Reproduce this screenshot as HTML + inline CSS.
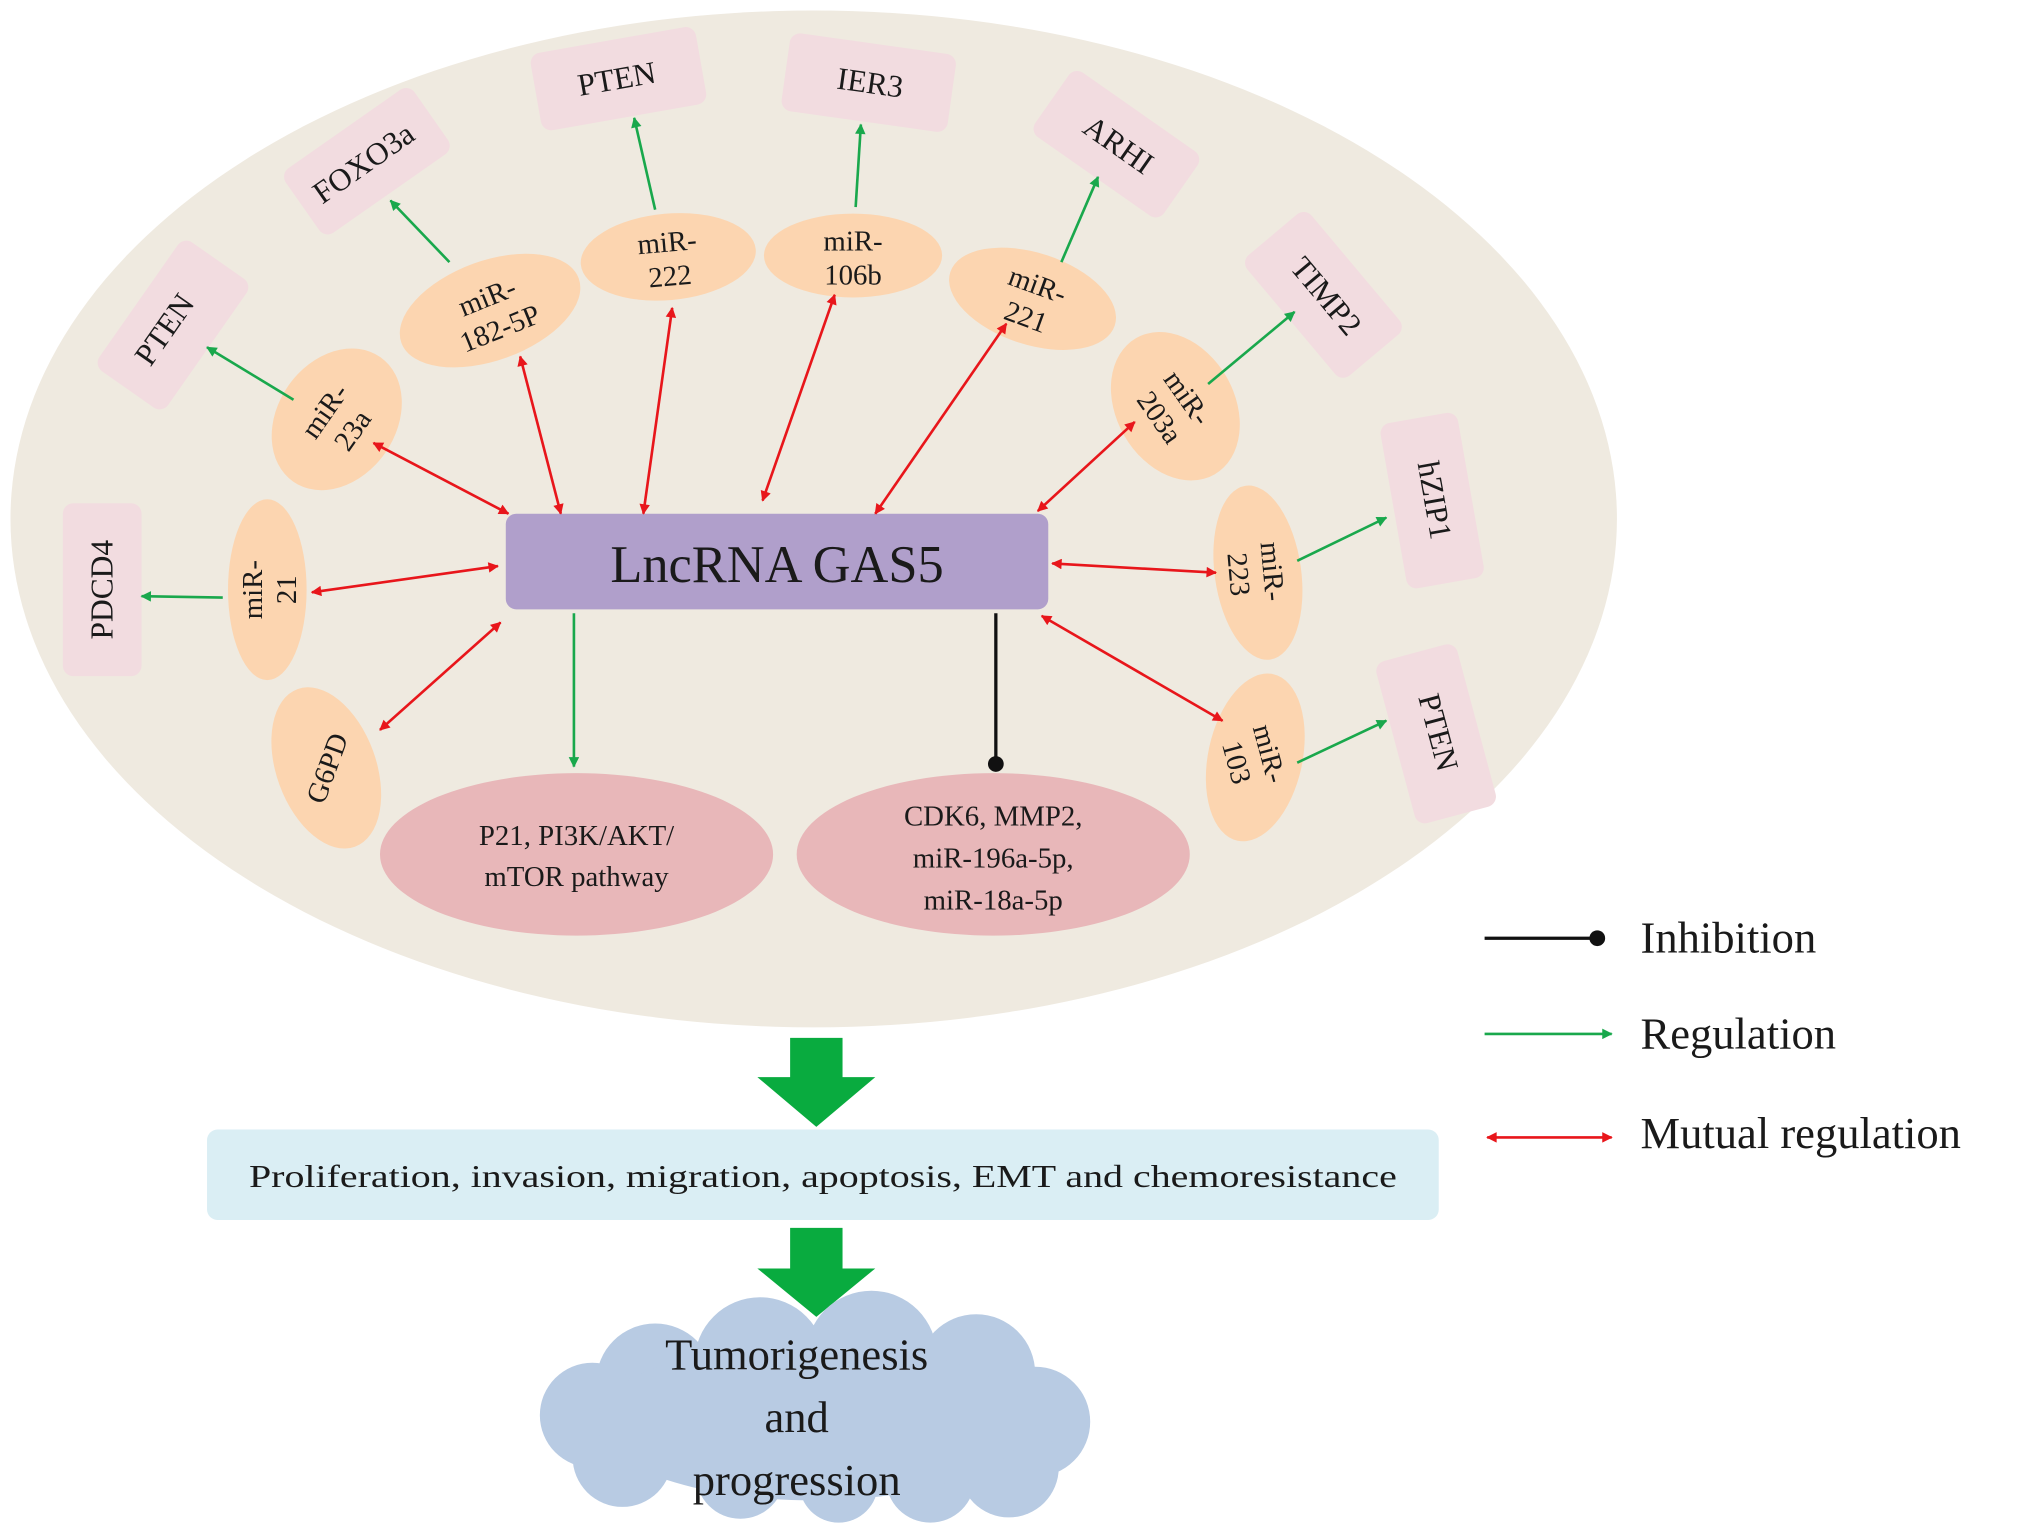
<!DOCTYPE html>
<html><head><meta charset="utf-8"><style>html,body{margin:0;padding:0;background:#fff}svg{display:block}text{font-family:"Liberation Serif",serif;fill:#1a1a1a}</style></head><body>
<svg width="2031" height="1524" viewBox="0 0 1550 1163" xmlns="http://www.w3.org/2000/svg">
<defs>
<marker id="r" viewBox="0 0 10 10" refX="9" refY="5" markerWidth="9" markerHeight="8" orient="auto-start-reverse" markerUnits="userSpaceOnUse"><path d="M0,0L10,5L0,10z" fill="#e8161b"/></marker>
<marker id="g" viewBox="0 0 10 10" refX="9" refY="5" markerWidth="9" markerHeight="8" orient="auto" markerUnits="userSpaceOnUse"><path d="M0,0L10,5L0,10z" fill="#19a84c"/></marker>
</defs>
<rect width="1550" height="1163" fill="#fff"/>
<ellipse cx="621" cy="396" rx="613" ry="388" fill="#efeae0"/>

<g fill="#f2dce0">
<rect x="-60" y="-32" width="120" height="64" rx="8" transform="translate(132,248) rotate(-55)"/>
<rect x="-60" y="-30" width="120" height="60" rx="8" transform="translate(280,123) rotate(-35)"/>
<rect x="-64" y="-30" width="128" height="60" rx="8" transform="translate(472,60) rotate(-10)"/>
<rect x="-64" y="-30" width="128" height="60" rx="8" transform="translate(663,63) rotate(8)"/>
<rect x="-60" y="-30" width="120" height="60" rx="8" transform="translate(852,110) rotate(35)"/>
<rect x="-60" y="-32" width="120" height="64" rx="8" transform="translate(1010,225) rotate(50)"/>
<rect x="-64" y="-30" width="128" height="60" rx="8" transform="translate(1093,382) rotate(80)"/>
<rect x="-64" y="-32" width="128" height="64" rx="8" transform="translate(1096,560) rotate(75)"/>
<rect x="-66" y="-30" width="132" height="60" rx="8" transform="translate(78,450) rotate(-90)"/>
</g>
<g font-size="24" text-anchor="middle">
<text transform="translate(132,256) rotate(-55)">PTEN</text>
<text transform="translate(282,131) rotate(-35)">FOXO3a</text>
<text transform="translate(472,68) rotate(-10)">PTEN</text>
<text transform="translate(663,71) rotate(8)">IER3</text>
<text transform="translate(849,117) rotate(35)">ARHI</text>
<text transform="translate(1006,231) rotate(50)">TIMP2</text>
<text transform="translate(1087,383) rotate(80)">hZIP1</text>
<text transform="translate(1090,561) rotate(75)">PTEN</text>
<text transform="translate(86,450) rotate(-90)">PDCD4</text>
</g>

<g fill="#fcd5b0">
<ellipse cx="257" cy="320" rx="45" ry="58" transform="rotate(35 257 320)"/>
<ellipse cx="374" cy="237" rx="72" ry="38" transform="rotate(-20 374 237)"/>
<ellipse cx="510" cy="196" rx="67" ry="33" transform="rotate(-5 510 196)"/>
<ellipse cx="651" cy="195" rx="68" ry="32"/>
<ellipse cx="788" cy="228" rx="66" ry="35" transform="rotate(18 788 228)"/>
<ellipse cx="897" cy="310" rx="45" ry="60" transform="rotate(-30 897 310)"/>
<ellipse cx="960" cy="437" rx="33" ry="67" transform="rotate(-8 960 437)"/>
<ellipse cx="958" cy="578" rx="36" ry="65" transform="rotate(12 958 578)"/>
<ellipse cx="204" cy="450" rx="30" ry="69"/>
<ellipse cx="249" cy="586" rx="38" ry="64" transform="rotate(-20 249 586)"/>
</g>
<g font-size="22" text-anchor="middle">
<text transform="translate(257,320) rotate(-55)"><tspan x="0" y="-4">miR-</tspan><tspan x="0" y="22">23a</tspan></text>
<text transform="translate(376,237) rotate(-22)"><tspan x="0" y="-4">miR-</tspan><tspan x="0" y="22">182-5P</tspan></text>
<text transform="translate(510,196) rotate(-5)"><tspan x="0" y="-4">miR-</tspan><tspan x="0" y="22">222</tspan></text>
<text transform="translate(651,195)"><tspan x="0" y="-4">miR-</tspan><tspan x="0" y="22">106b</tspan></text>
<text transform="translate(788,228) rotate(20)"><tspan x="0" y="-4">miR-</tspan><tspan x="0" y="22">221</tspan></text>
<text transform="translate(897,310) rotate(55)"><tspan x="0" y="-4">miR-</tspan><tspan x="0" y="22">203a</tspan></text>
<text transform="translate(960,437) rotate(85)"><tspan x="0" y="-4">miR-</tspan><tspan x="0" y="22">223</tspan></text>
<text transform="translate(958,578) rotate(75)"><tspan x="0" y="-4">miR-</tspan><tspan x="0" y="22">103</tspan></text>
<text transform="translate(204,450) rotate(-90)"><tspan x="0" y="-4">miR-</tspan><tspan x="0" y="22">21</tspan></text>
<text transform="translate(249,586) rotate(-70)"><tspan x="0" y="8">G6PD</tspan></text>
</g>

<ellipse cx="440" cy="652" rx="150" ry="62" fill="#e8b7b9"/>
<ellipse cx="758" cy="652" rx="150" ry="62" fill="#e8b7b9"/>
<g font-size="22" text-anchor="middle">
<text x="440" y="645">P21, PI3K/AKT/</text>
<text x="440" y="676">mTOR pathway</text>
<text x="758" y="630">CDK6, MMP2,</text>
<text x="758" y="662">miR-196a-5p,</text>
<text x="758" y="694">miR-18a-5p</text>
</g>

<rect x="386" y="392" width="414" height="73" rx="8" fill="#b09fcb"/>
<text x="593" y="444" font-size="40" text-anchor="middle">LncRNA GAS5</text>

<g stroke="#e8161b" stroke-width="2" marker-start="url(#r)" marker-end="url(#r)">
<line x1="388" y1="392" x2="285" y2="338"/>
<line x1="428" y1="392" x2="397" y2="272"/>
<line x1="491" y1="392" x2="513" y2="235"/>
<line x1="582" y1="382" x2="637" y2="225"/>
<line x1="668" y1="392" x2="768" y2="247"/>
<line x1="792" y1="390" x2="866" y2="322"/>
<line x1="803" y1="430" x2="928" y2="437"/>
<line x1="795" y1="470" x2="933" y2="550"/>
<line x1="380" y1="432" x2="238" y2="452"/>
<line x1="382" y1="475" x2="290" y2="557"/>
</g>
<g stroke="#19a84c" stroke-width="2" marker-end="url(#g)">
<line x1="438" y1="468" x2="438" y2="585"/>
<line x1="224" y1="305" x2="158" y2="265"/>
<line x1="343" y1="200" x2="298" y2="153"/>
<line x1="500" y1="160" x2="484" y2="90"/>
<line x1="653" y1="158" x2="657" y2="95"/>
<line x1="810" y1="200" x2="838" y2="135"/>
<line x1="922" y1="293" x2="988" y2="238"/>
<line x1="990" y1="428" x2="1058" y2="395"/>
<line x1="990" y1="582" x2="1058" y2="550"/>
<line x1="170" y1="456" x2="108" y2="455"/>
</g>
<line x1="760" y1="468" x2="760" y2="582" stroke="#111" stroke-width="2.5"/>
<circle cx="760" cy="583" r="6" fill="#111"/>

<path d="M603,792H643V822H668L623,860L578,822H603Z" fill="#09ab3f"/>
<path d="M603,937H643V968H668L623,1005L578,968H603Z" fill="#09ab3f"/>

<rect x="158" y="862" width="940" height="69" rx="8" fill="#daeef4"/>
<text x="628" y="906" font-size="24" text-anchor="middle" textLength="876" lengthAdjust="spacingAndGlyphs">Proliferation, invasion, migration, apoptosis, EMT and chemoresistance</text>

<g fill="#b8cbe3">
<circle cx="500" cy="1055" r="45"/>
<circle cx="580" cy="1040" r="50"/>
<circle cx="665" cy="1035" r="50"/>
<circle cx="745" cy="1048" r="45"/>
<circle cx="790" cy="1085" r="42"/>
<circle cx="770" cy="1120" r="38"/>
<circle cx="710" cy="1128" r="34"/>
<circle cx="640" cy="1132" r="30"/>
<circle cx="565" cy="1125" r="34"/>
<circle cx="475" cy="1112" r="38"/>
<circle cx="452" cy="1080" r="40"/>
<ellipse cx="620" cy="1085" rx="165" ry="60"/>
</g>
<g font-size="34" text-anchor="middle">
<text x="608" y="1045">Tumorigenesis</text>
<text x="608" y="1093">and</text>
<text x="608" y="1141">progression</text>
</g>

<line x1="1133" y1="716" x2="1218" y2="716" stroke="#111" stroke-width="2.5"/>
<circle cx="1219" cy="716" r="6" fill="#111"/>
<line x1="1133" y1="789" x2="1230" y2="789" stroke="#19a84c" stroke-width="2" marker-end="url(#g)"/>
<line x1="1135" y1="868" x2="1230" y2="868" stroke="#e8161b" stroke-width="2" marker-start="url(#r)" marker-end="url(#r)"/>
<g font-size="34">
<text x="1252" y="727">Inhibition</text>
<text x="1252" y="800">Regulation</text>
<text x="1252" y="876">Mutual regulation</text>
</g>
</svg>
</body></html>
